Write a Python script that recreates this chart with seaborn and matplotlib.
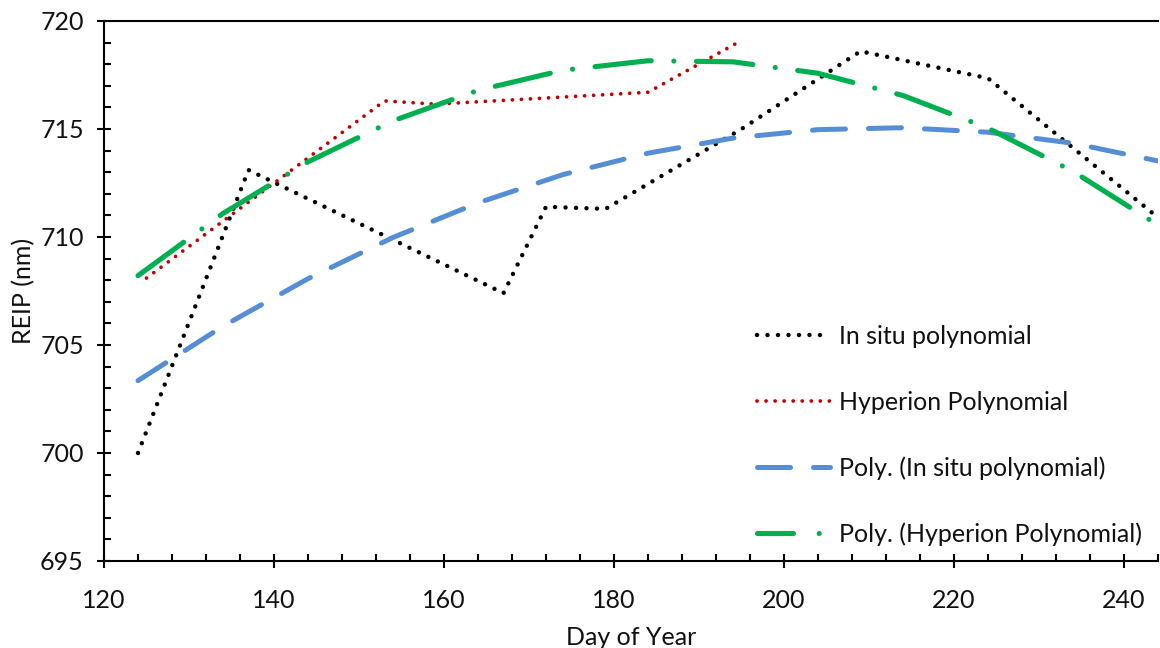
import numpy as np
import pandas as pd
import seaborn as sns
import matplotlib
matplotlib.use("Agg")
import matplotlib.pyplot as plt
from matplotlib.ticker import MultipleLocator
from matplotlib.lines import Line2D

# ---- data ----
insitu_day = [124, 137, 167, 172, 179, 195, 209, 224, 244]
insitu_reip = [700.0, 713.1, 707.4, 711.4, 711.3, 715.0, 718.6, 717.35, 710.9]

hyper_day = [125, 153, 159, 184, 195]
hyper_reip = [708.1, 716.3, 716.15, 716.7, 719.1]

trend_day = [124, 134, 144, 154, 164, 174, 184, 194, 204, 214, 224, 234, 244]
insitu_trend = [703.35, 705.87, 708.07, 709.98, 711.58, 712.89, 713.88,
                714.58, 714.97, 715.06, 714.85, 714.34, 713.52]
hyper_trend = [708.21, 711.09, 713.48, 715.38, 716.79, 717.72, 718.16,
               718.11, 717.58, 716.55, 715.04, 713.04, 710.55]

labels = ["In situ polynomial", "Hyperion Polynomial",
          "Poly. (In situ polynomial)", "Poly. (Hyperion Polynomial)"]
x_ticks = [120, 140, 160, 180, 200, 220, 240]
y_ticks = [695, 700, 705, 710, 715, 720]

# ---- style ----
sns.set_style("white")
plt.rcParams['font.family'] = ['Lato', 'DejaVu Sans']
FS = 18

fig = plt.figure(figsize=(11.6, 6.48), dpi=100)
ax = fig.add_axes([104 / 1160, 1 - 561 / 648, (1158 - 104) / 1160, (561 - 21) / 648])

BLACK = "#000000"
RED = "#C00000"
BLUE = "#558ED5"
GREEN = "#00B050"

BLACK_LS = (0, (0.01, 2.35))
RED_LS = (0, (0.01, 2.4))
BLUE_LS = (0, (6.6, 4.6))
GREEN_LS = (0, (11, 4.4, 0.01, 4.4))

sns.lineplot(x=insitu_day, y=insitu_reip, ax=ax, color=BLACK, lw=3.2,
             linestyle=BLACK_LS, dash_capstyle="round", sort=False)
sns.lineplot(x=hyper_day, y=hyper_reip, ax=ax, color=RED, lw=2.7,
             linestyle=RED_LS, dash_capstyle="round", sort=False)
sns.lineplot(x=trend_day, y=insitu_trend, ax=ax, color=BLUE, lw=3.6,
             linestyle=BLUE_LS, dash_capstyle="round", sort=False)
sns.lineplot(x=trend_day, y=hyper_trend, ax=ax, color=GREEN, lw=3.7,
             linestyle=GREEN_LS, dash_capstyle="round", sort=False)

ax.set_xlim(120, 244)
ax.set_ylim(695, 720)
ax.set_xticks(x_ticks)
ax.set_yticks(y_ticks)
ax.xaxis.set_minor_locator(MultipleLocator(4))
ax.yaxis.set_minor_locator(MultipleLocator(1))

for s in ["left", "bottom", "top"]:
    ax.spines[s].set_visible(True)
    ax.spines[s].set_color("black")
    ax.spines[s].set_linewidth(1.5)
ax.spines["right"].set_visible(False)

ax.tick_params(which="major", direction="inout", length=10, width=1.5,
               color="black", labelsize=FS, labelcolor="#111111",
               bottom=True, left=True, top=False, right=False)
ax.tick_params(axis="x", which="major", pad=15)
ax.tick_params(axis="y", which="major", pad=9.5)
ax.tick_params(which="minor", direction="in", length=5, width=1.5,
               color="black", bottom=True, left=True, top=False, right=False)

ax.set_xlabel("Day of Year", fontsize=FS, color="#111111", labelpad=10)
ax.set_ylabel("REIP (nm)", fontsize=FS, color="#111111", labelpad=3.7)
ax.grid(False)

handles = [
    Line2D([], [], color=BLACK, lw=3.2, linestyle=BLACK_LS, dash_capstyle="round"),
    Line2D([], [], color=RED, lw=2.7, linestyle=RED_LS, dash_capstyle="round"),
    Line2D([], [], color=BLUE, lw=3.6, linestyle=BLUE_LS, dash_capstyle="round"),
    Line2D([], [], color=GREEN, lw=3.7, linestyle=(0, (7, 5, 0.01, 5)), dash_capstyle="round"),
]
leg = ax.legend(handles, labels, loc="upper left",
                bbox_to_anchor=(757 / 1160, 1 - 325 / 648), bbox_transform=fig.transFigure,
                frameon=False, fontsize=FS, handlelength=2.92, handletextpad=0.35,
                labelspacing=1.7, borderpad=0, borderaxespad=0)
for t in leg.get_texts():
    t.set_color("#111111")

fig.savefig("out.png", dpi=100)
